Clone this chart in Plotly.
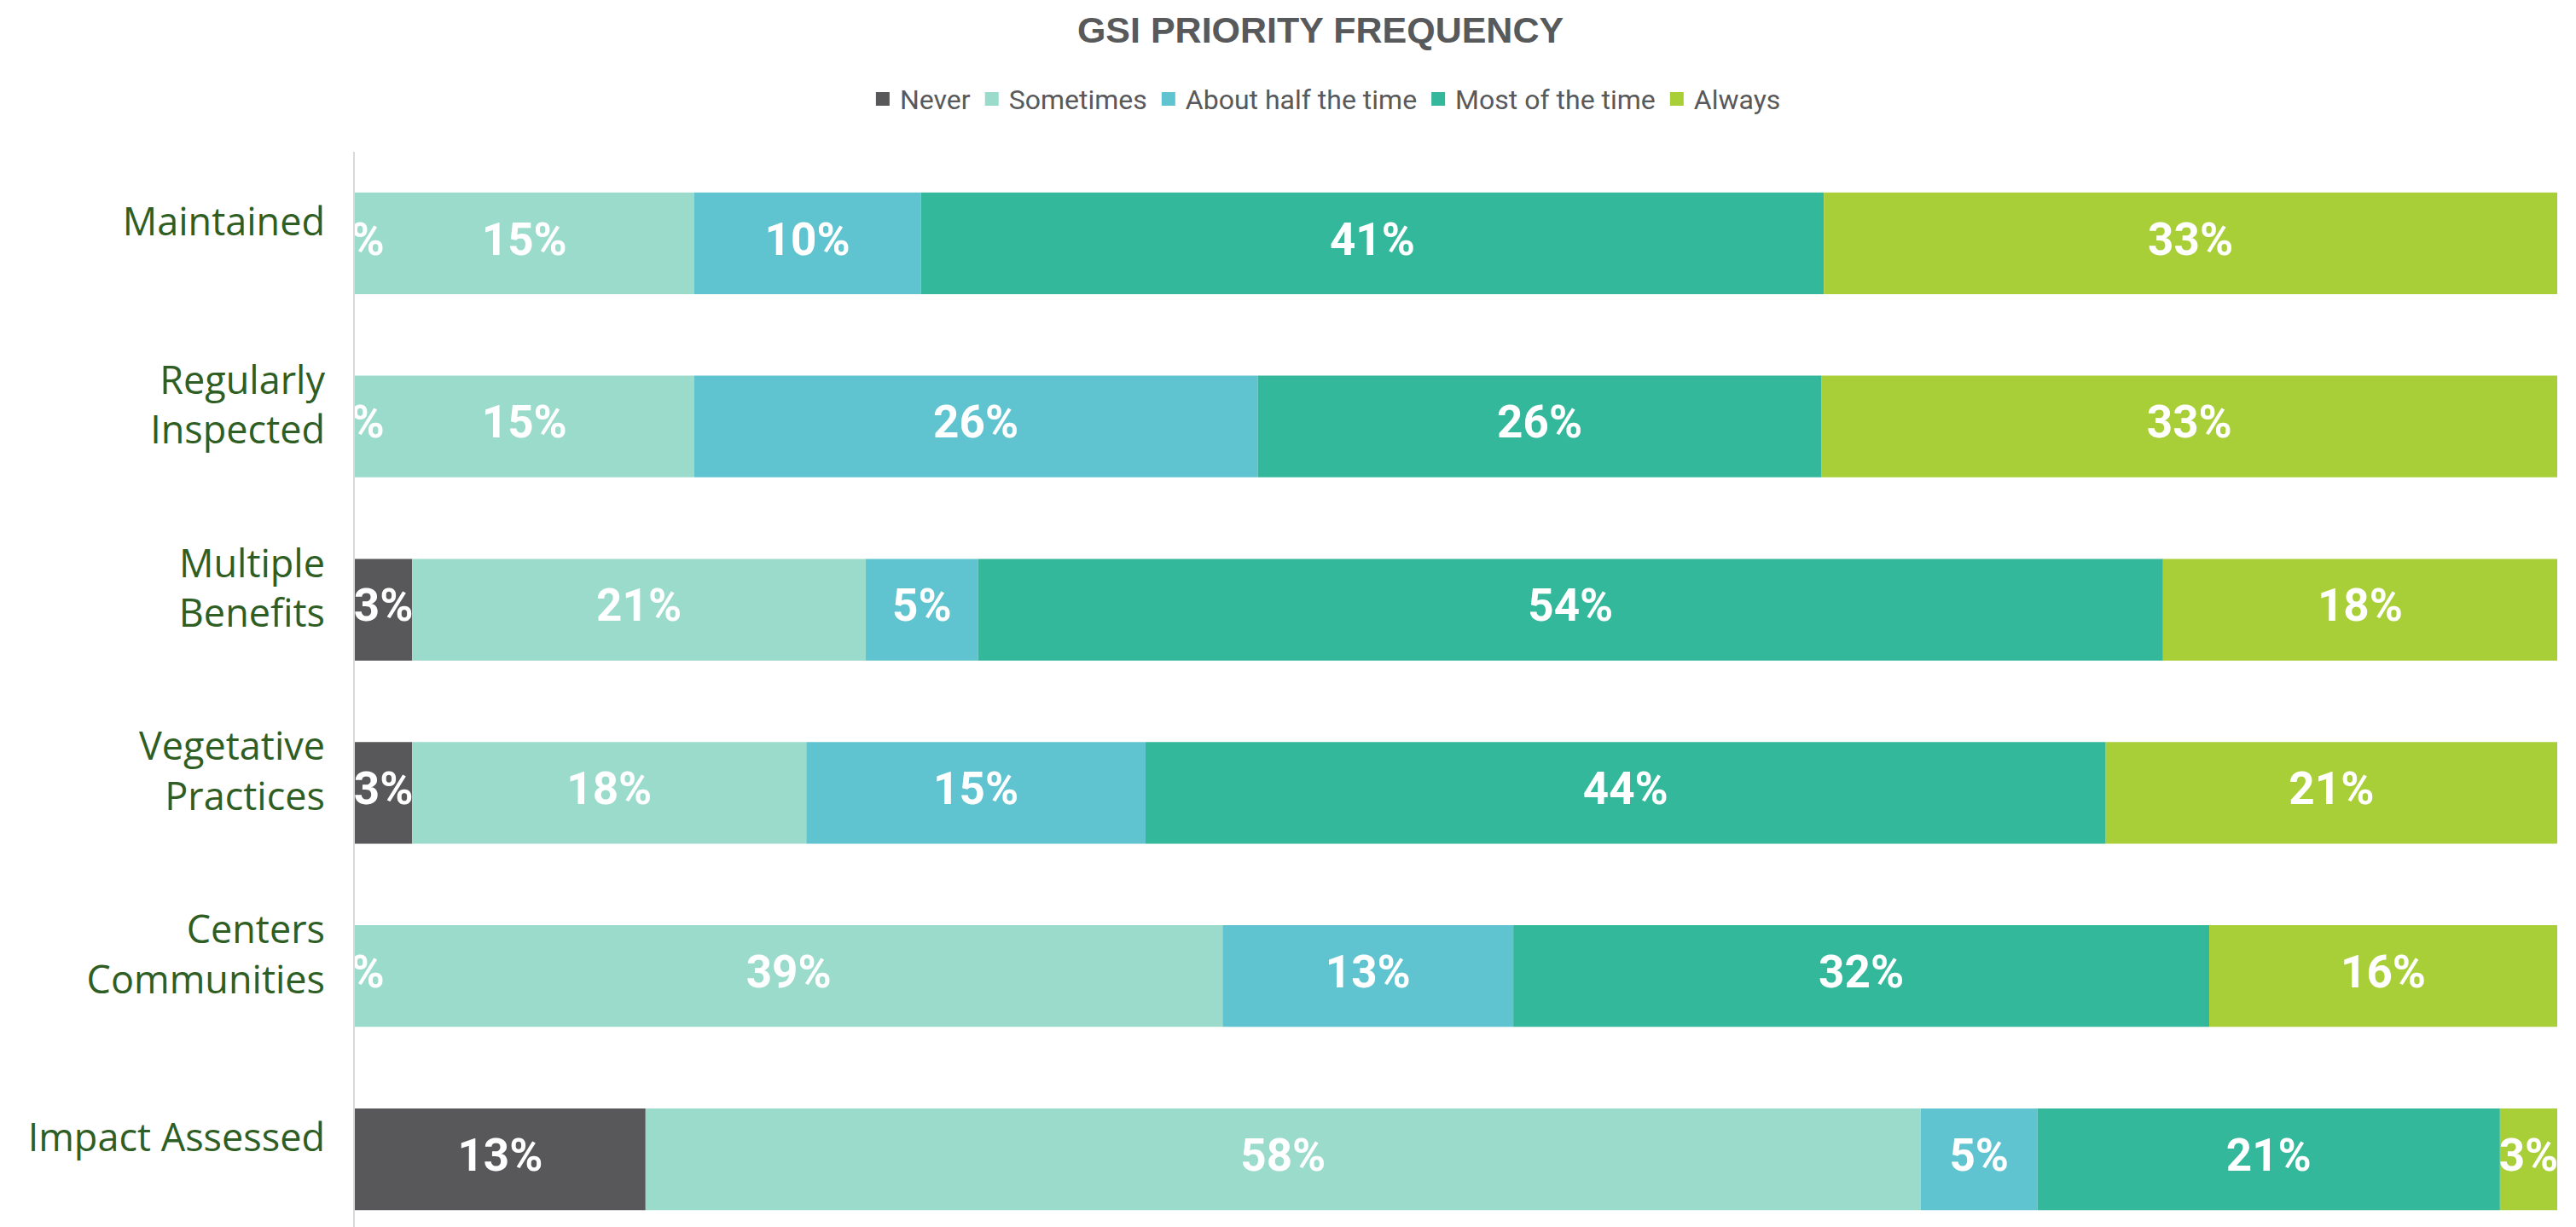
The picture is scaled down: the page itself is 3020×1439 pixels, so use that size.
import math
import plotly.graph_objects as go

categories = ["Maintained", "Regularly<br>Inspected", "Multiple<br>Benefits",
              "Vegetative<br>Practices", "Centers<br>Communities", "Impact Assessed"]

series_names = ["Never", "Sometimes", "About half the time", "Most of the time", "Always"]

never = [0.0, 0.0, 2.6, 2.6, 0.0, 13.2]
sometimes = [15.4, 15.4, 20.6, 17.9, 39.4, 57.9]
about_half = [10.3, 25.6, 5.1, 15.4, 13.2, 5.3]
most_time = [41.0, 25.6, 53.8, 43.6, 31.6, 21.0]
always = [33.3, 33.4, 17.9, 20.5, 15.8, 2.6]

colors = ["#58585a", "#9bdbcc", "#60c4d0", "#33b89b", "#a9cf38"]

series_values = [never, sometimes, about_half, most_time, always]

fig = go.Figure()

label_font = dict(family="Roboto, Liberation Sans, sans-serif",
                  size=53, color="white", weight="bold")

base = [0.0] * len(categories)
for name, vals, col in zip(series_names, series_values, colors):
    fig.add_trace(go.Bar(
        name=name, y=categories, x=vals, base=base[:], orientation="h",
        marker=dict(color=col, line=dict(width=0)),
        textposition="none", hoverinfo="x+name", showlegend=False,
    ))
    centers = [b + v / 2 for b, v in zip(base, vals)]
    labels = [f"{math.floor(v + 0.5)}%" for v in vals]
    fig.add_trace(go.Scatter(
        x=centers, y=categories, mode="text", text=labels,
        textposition="middle center", textfont=label_font,
        cliponaxis=True, showlegend=False, hoverinfo="skip",
    ))
    base = [b + v for b, v in zip(base, vals)]

# legend entries (square swatches)
for name, col in zip(series_names, colors):
    fig.add_trace(go.Scatter(
        x=[None], y=[None], mode="markers", name=name,
        marker=dict(symbol="square", size=16, color=col),
        showlegend=True, hoverinfo="skip",
    ))

fig.update_layout(
    width=3020, height=1439,
    paper_bgcolor="white", plot_bgcolor="white",
    margin=dict(l=416, r=22, t=178, b=0, autoexpand=False),
    barmode="overlay", bargap=0.445,
    showlegend=True,
    title=dict(text="<b>GSI PRIORITY FREQUENCY</b>", x=0.5126, xanchor="center",
               y=0.976, yanchor="middle",
               font=dict(family="Liberation Sans, Arial, sans-serif", size=43, color="#58595b")),
    legend=dict(orientation="h", x=0.4407, xanchor="center", y=1.049, yanchor="middle",
                font=dict(family="Roboto, Liberation Sans, sans-serif",
                          size=32, color="#58595b"),
                itemsizing="trace", traceorder="normal", bgcolor="rgba(0,0,0,0)"),
    xaxis=dict(range=[0, 100], visible=False, fixedrange=True),
    yaxis=dict(type="category", categoryorder="array", categoryarray=categories,
               range=[5.37, -0.5], showgrid=False, zeroline=False,
               showline=True, linecolor="#d9d9d9", linewidth=2,
               ticks="", ticklabelstandoff=24, ticklabelshift=25,
               tickfont=dict(family="Open Sans, Noto Sans, sans-serif", size=45, color="#2e5e23")),
)

fig.write_html("out.html", config={"displayModeBar": False},
               post_script="document.body.style.margin='0';document.body.style.overflow='hidden';")
